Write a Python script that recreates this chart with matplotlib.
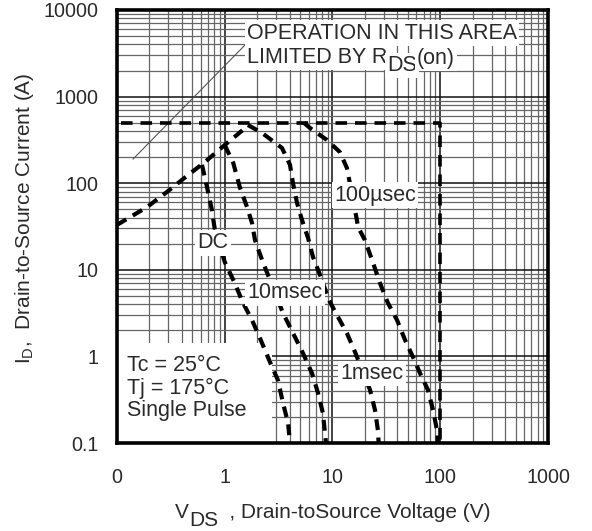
import matplotlib

matplotlib.use("Agg")
import matplotlib.pyplot as plt
from matplotlib.patches import Rectangle
from matplotlib.text import Annotation
from matplotlib.ticker import FixedLocator, LogLocator, NullFormatter

plt.rcParams["font.family"] = ["Liberation Sans", "DejaVu Sans"]
plt.rcParams["mathtext.fontset"] = "custom"
plt.rcParams["mathtext.rm"] = "Liberation Sans"
plt.rcParams["mathtext.it"] = "Liberation Sans"

# R_DS(on) limit (rising segment)
rds_v = [0.1, 0.19, 0.29, 0.456, 0.656, 1.0, 1.47, 1.64]
rds_i = [33, 53, 79, 124, 176, 276, 411, 470]

# current limit and BVdss limit
lim_v = [0.11, 100, 100]
lim_i = [500, 500, 0.1]

dc_v = [0.615, 0.685, 0.76, 0.81, 1.0, 1.24, 1.47, 1.79, 2.12, 2.63, 3.12, 3.47, 3.87, 4.03]
dc_i = [163, 90, 49, 28.8, 12.3, 7.0, 4.2, 2.63, 1.63, 0.86, 0.53, 0.29, 0.17, 0.1]

ms10_v = [1.0, 1.2, 1.38, 1.61, 1.79, 1.91, 2.22, 3.47, 4.3, 5.32, 6.45, 7.33, 8.16, 8.7]
ms10_i = [276, 171, 90, 53, 34.8, 22, 13, 3.17, 1.86, 1.09, 0.64, 0.38, 0.22, 0.1]

ms1_v = [1.64, 2.22, 3.4, 4.03, 4.3, 4.69, 5.21, 5.93, 6.6, 8.0, 9.08, 11.0, 13.6, 16.2, 22.3, 24.8, 26.4, 26.8]
ms1_i = [470, 380, 255, 163, 100, 59, 37.6, 23.3, 14, 7.6, 4.7, 3.0, 1.86, 1.12, 0.41, 0.24, 0.14, 0.1]

us100_v = [5.4, 6.2, 8.9, 11.7, 13.6, 16.2, 17.3, 20, 23.8, 27.6, 32.7, 39.7, 47.1, 55.9, 64.9, 76.9, 85.7, 93.3, 95]
us100_i = [500, 433, 315, 229, 150, 49, 31, 22, 12, 7.0, 4.14, 2.63, 1.55, 0.98, 0.64, 0.41, 0.24, 0.14, 0.1]

# thin leader line for the R_DS(on) note
lead_v = [0.141, 1.61]
lead_i = [190, 4160]

xticks = [0.1, 1, 10, 100, 1000]
xticklabels = ["0", "1", "10", "100", "1000"]
yticks = [0.1, 1, 10, 100, 1000, 10000]
yticklabels = ["0.1", "1", "10", "100", "1000", "10000"]

txt = "#2a2a2a"
fs = 15.5

fig = plt.figure(figsize=(5.92, 5.31), dpi=100)
ax = fig.add_axes([0.1976, 0.1657, 0.7281, 0.8155])
ax.set_xscale("log")
ax.set_yscale("log")
ax.set_xlim(0.1, 1000)
ax.set_ylim(0.1, 10000)

ax.xaxis.set_major_locator(FixedLocator(xticks))
ax.yaxis.set_major_locator(FixedLocator(yticks))
ax.xaxis.set_minor_locator(LogLocator(base=10, subs=range(2, 10)))
ax.yaxis.set_minor_locator(LogLocator(base=10, subs=range(2, 10)))
ax.xaxis.set_minor_formatter(NullFormatter())
ax.yaxis.set_minor_formatter(NullFormatter())
ax.set_xticklabels(xticklabels)
ax.set_yticklabels(yticklabels)
ax.tick_params(which="both", length=0, labelsize=14.2, colors=txt)
ax.tick_params(axis="x", pad=18)
ax.tick_params(axis="y", pad=13)

ax.grid(which="major", color="#111111", lw=1.1, zorder=0)
ax.grid(which="minor", color="#666666", lw=0.9, zorder=0)
ax.set_axisbelow(True)
for s in ax.spines.values():
    s.set_linewidth(2.6)
    s.set_zorder(10)

# white panel behind the conditions note
ax.add_patch(Rectangle((0.1, 0.1), 2.64, 1.33, facecolor="white",
                       edgecolor="none", zorder=1.5))

dash = dict(color="black", lw=3.0, linestyle=(0, (2.6, 1.8)),
            dash_capstyle="butt", zorder=3)
ax.plot(lim_v, lim_i, color="black", lw=2.6, linestyle=(0, (3.2, 2.2)),
        dash_capstyle="butt", zorder=3)
ax.plot(rds_v, rds_i, **dash)
ax.plot(dc_v, dc_i, **dash)
ax.plot(ms10_v, ms10_i, **dash)
ax.plot(ms1_v, ms1_i, **dash)
ax.plot(us100_v, us100_i, **dash)
ax.plot(lead_v, lead_i, color="#555555", lw=0.8, zorder=2)

box = dict(facecolor="white", edgecolor="none", pad=1.5)
lab = dict(fontsize=fs, color=txt, zorder=5, bbox=box)
ax.text(1.6, 5420, "OPERATION IN THIS AREA", ha="left", va="center", **lab)
t1 = ax.text(1.6, 2860, "LIMITED BY R", ha="left", va="center", **lab)
t2 = ax.annotate("DS", xy=(1, 0), xycoords=t1, xytext=(0, -6),
                 textcoords="offset points", ha="left", va="bottom", **lab)
ax.annotate("(on)", xy=(1, 0), xycoords=t2, xytext=(0, 5),
            textcoords="offset points", ha="left", va="bottom", **lab)
ax.text(0.78, 20.4, "DC", ha="center", va="center", **lab)
ax.text(3.62, 5.4, "10msec", ha="center", va="center", **lab)
ax.text(23.3, 0.63, "1msec", ha="center", va="center", **lab)
ax.text(24.8, 73, "100\u00b5sec", ha="center", va="center", **lab)
ax.text(0.125, 0.43, "Tc = 25\u00b0C\nTj = 175\u00b0C\nSingle Pulse",
        ha="left", va="center", fontsize=fs, color=txt, zorder=5,
        linespacing=1.1)

# axis titles
fig.text(25 / 592, 1 - 218 / 531,
         r"I$_{\rm D}$,  Drain-to-Source Current (A)",
         rotation=90, ha="center", va="center", fontsize=15, color=txt)
x1 = fig.text(175 / 592, 1 - 512 / 531, "V", ha="left", va="center",
              fontsize=15, color=txt)
x2 = fig.add_artist(Annotation(
    "DS", xy=(1, 0), xycoords=x1, xytext=(0, -6), textcoords="offset points",
    ha="left", va="bottom", fontsize=15, color=txt))
fig.add_artist(Annotation(
    "  , Drain-toSource Voltage (V)", xy=(1, 0), xycoords=x2,
    xytext=(0, 6), textcoords="offset points",
    ha="left", va="bottom", fontsize=15, color=txt))

fig.savefig("out.png", dpi=100)
